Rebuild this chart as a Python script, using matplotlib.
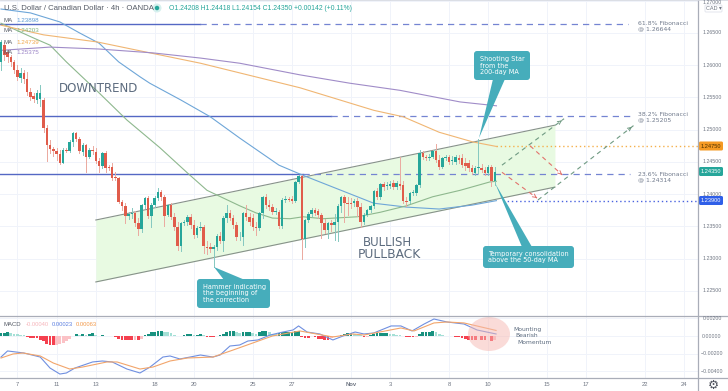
#!/usr/bin/env python3
import numpy as np
import matplotlib
matplotlib.use('Agg')
from matplotlib import pyplot as plt
from matplotlib.patches import Ellipse, FancyBboxPatch, Polygon, Rectangle
from matplotlib.transforms import Affine2D

# candles, price * 10000, one value per 4h bar
opens = [12605,12631,12620,12613,12605,12592,12580,12588,12579,12558,
         12552,12546,12548,12546,12503,12476,12470,12467,12462,12448,
         12468,12467,12481,12495,12486,12465,12476,12458,12468,12465,
         12451,12444,12464,12442,12442,12427,12425,12388,12382,12366,
         12369,12371,12355,12346,12383,12394,12366,12383,12394,12403,
         12396,12368,12383,12365,12349,12320,12355,12357,12365,12352,
         12337,12348,12349,12318,12318,12315,12318,12335,12327,12363,
         12371,12363,12352,12335,12334,12371,12365,12363,12349,12348,
         12371,12396,12383,12380,12372,12372,12351,12391,12393,12393,
         12389,12419,12428,12331,12360,12369,12376,12374,12368,12355,
         12345,12355,12352,12357,12382,12396,12386,12386,12386,12389,
         12380,12357,12368,12376,12382,12405,12396,12416,12413,12413,
         12417,12411,12416,12414,12389,12389,12402,12402,12414,12464,
         12458,12456,12458,12467,12453,12442,12456,12458,12451,12450,
         12456,12456,12448,12448,12441,12433,12441,12441,12437,12433,12442,12421]
closes = [12636,12616,12613,12605,12592,12582,12588,12579,12558,12551,
          12548,12557,12557,12503,12476,12470,12467,12462,12448,12468,
          12467,12481,12495,12486,12467,12476,12458,12468,12467,12451,
          12444,12464,12441,12441,12425,12425,12388,12382,12366,12369,
          12371,12355,12346,12383,12394,12366,12383,12394,12403,12396,
          12366,12383,12365,12349,12320,12355,12357,12365,12352,12337,
          12348,12349,12320,12317,12315,12318,12335,12327,12363,12371,
          12363,12352,12334,12335,12371,12365,12357,12349,12348,12371,
          12396,12383,12380,12372,12374,12351,12391,12393,12391,12389,
          12419,12428,12331,12360,12369,12376,12371,12368,12355,12345,
          12355,12352,12357,12382,12396,12386,12385,12385,12389,12380,
          12357,12368,12376,12382,12405,12396,12416,12411,12414,12416,
          12411,12417,12413,12389,12388,12402,12403,12414,12464,12458,
          12456,12458,12467,12453,12442,12456,12458,12450,12453,12458,
          12453,12445,12444,12441,12434,12441,12441,12437,12433,12442,12420,12435]
highs = [12639,12636,12623,12616,12608,12600,12596,12592,12589,12565,
         12557,12561,12569,12549,12507,12484,12473,12472,12468,12472,
         12472,12484,12496,12496,12489,12479,12478,12472,12475,12472,
         12456,12465,12467,12445,12448,12434,12427,12391,12386,12372,
         12379,12374,12363,12385,12396,12397,12386,12397,12410,12406,
         12399,12385,12386,12371,12357,12357,12360,12368,12369,12360,
         12351,12357,12352,12327,12324,12321,12338,12341,12366,12383,
         12376,12368,12357,12341,12372,12383,12371,12369,12357,12372,
         12397,12400,12391,12385,12379,12376,12394,12397,12396,12397,
         12420,12430,12430,12362,12372,12379,12379,12377,12371,12362,
         12357,12360,12369,12385,12397,12399,12396,12394,12393,12394,
         12386,12371,12377,12383,12406,12410,12417,12419,12419,12420,
         12422,12420,12458,12420,12396,12403,12406,12416,12468,12467,
         12461,12462,12468,12478,12461,12458,12461,12461,12459,12461,
         12461,12462,12456,12453,12445,12444,12486,12447,12442,12445,12445,12442]
lows = [12592,12608,12605,12599,12588,12577,12574,12572,12554,12546,
        12543,12541,12537,12496,12451,12464,12459,12453,12447,12448,
        12465,12465,12475,12482,12464,12461,12434,12456,12462,12448,
        12434,12441,12434,12437,12422,12422,12386,12376,12355,12362,
        12363,12351,12337,12341,12379,12363,12349,12380,12391,12391,
        12351,12366,12362,12345,12314,12312,12352,12352,12348,12332,
        12334,12345,12309,12307,12310,12287,12314,12324,12312,12357,
        12360,12348,12329,12329,12321,12360,12352,12345,12337,12345,
        12363,12379,12376,12369,12369,12348,12348,12388,12389,12386,
        12388,12417,12300,12318,12357,12366,12368,12363,12332,12340,
        12332,12343,12329,12327,12372,12357,12368,12379,12382,12366,
        12349,12354,12366,12372,12379,12393,12393,12406,12408,12410,
        12408,12408,12408,12386,12382,12386,12399,12399,12411,12455,
        12453,12453,12456,12450,12439,12441,12453,12447,12447,12447,
        12448,12442,12437,12436,12431,12430,12433,12434,12430,12430,12413,12415]

# moving averages, read at bar numbers
ma_blue_x = [0,9,18,24,30,36,42.5,45.5,55,64,73,85,92,104,114,124,134,144,151.5]
ma_blue = [12687,12681,12667,12650,12634,12605,12582,12572,12546,12520,12487,12445,12430,12406,12386,12380,12377,12383,12390]
ma_green_x = [0,10,15,20,30,38.5,48.6,57,63,73,78,83,88.4,92.4,98.5,109,116,124,132,140.4,149.5,151.5]
ma_green = [12665,12642,12631,12605,12557,12515,12472,12433,12406,12382,12371,12363,12362,12365,12362,12365,12372,12382,12396,12406,12419,12420]
ma_orange_x = [0,13,29.4,45.6,61,73,91.4,114,123,134,144.3,151.5]
ma_orange = [12662,12647,12636,12619,12603,12588,12565,12530,12520,12496,12481,12474]
ma_purple_x = [0,15,30,46.5,61,73,91.4,106.7,122,140.4,151.5]
ma_purple = [12623,12628,12625,12619,12611,12603,12585,12572,12561,12543,12537]

# rising channel
channel_x = [29, 169.4]
channel_top = [12360, 12507]
channel_bottom = [12264, 12411]

# fibonacci levels: price, last solid bar, last dashed bar
fib_prices = [1.26644, 1.25205, 1.24314]
fib_solid_end = [61, 101, 92.3]
fib_dash_end = [191.7, 192.4, 192.4]
fib_labels = ['61.8% Fibonacci\n@ 1.26644', '38.2% Fibonacci\n@ 1.25205', '23.6% Fibonacci\n@ 1.24314']

# projected paths
path_green_a = ([153.2, 172.2], [12445, 12517])
path_red_a = ([161.8, 171.6], [12475, 12430])
path_green_b = ([164.2, 193.6], [12391, 12507])
path_red_b = ([153.2, 163.9], [12434, 12394])

# MACD, value * 100000
macd_x = [0,2,7,12,15,18,20,22.6,28,31,34,38.5,42.5,45.6,49.5,51.7,54.7,61,64.8,67,70,73,75.5,78.6,82.3,
          86.2,89.3,91,93.6,97.5,101.5,104.6,108.3,111,114,119.3,122.3,125.7,129.4,132.4,136.4,141.6,145.6,151.4]
macd_line = [-239,-170,-193,-239,-364,-432,-420,-364,-295,-284,-295,-375,-420,-352,-239,-227,-261,-216,-239,-216,-114,-102,-57,-45,11,
             45,68,114,45,23,-45,0,45,23,34,114,114,57,136,193,159,136,68,23]
signal_x = [0,3.7,6.7,12,16,21,25,32.4,35.5,42.5,46.5,51.7,57,64.8,71,83,91.4,101.5,107.6,111,122.3,126.3,132.4,136.4,141.6,151.4]
signal_line = [-250,-204,-193,-227,-307,-375,-352,-295,-295,-375,-352,-284,-250,-239,-159,0,57,-11,23,11,91,57,148,159,148,63]
hist = [30,35,40,30,25,20,15,12,-15,-20,
        -25,-25,-40,-60,-90,-100,-105,-100,-95,-85,
        -60,-30,5,20,10,25,12,25,30,10,
        5,15,5,0,-5,-15,-30,-40,-50,-50,
        -50,-45,-50,-30,10,25,40,50,60,60,
        50,40,30,15,5,-5,10,20,25,15,
        15,20,15,-10,-15,-15,0,10,25,40,
        55,60,50,35,45,50,50,35,25,40,
        55,60,45,25,20,35,40,40,45,50,
        55,60,-10,-20,-20,-5,-15,-30,-35,-40,
        -45,-25,-10,-5,10,20,30,35,25,15,
        10,-15,-10,10,20,30,30,35,35,25,
        20,15,10,-3,-15,-15,-15,-10,25,40,
        45,50,55,50,25,15,5,0,-5,-8,
        -15,-20,-30,-40,-50,-50,-5,-50,-50,-5,-55,-40]

# axes
date_ticks = [5,17,29,47,59,77,89,107,119,137,149,167,179,197,209]
date_labels = ['7','11','13','18','20','25','27','Nov','3','8','10','15','17','22','24']
price_ticks = [1.27, 1.265, 1.26, 1.255, 1.25, 1.245, 1.24, 1.235, 1.23, 1.225]
macd_ticks = [0.002, 0, -0.002, -0.004]

UP = '#26a69a'
DOWN = '#e05c4b'
GRID = '#f0f3fa'
LINE = '#a9adb8'
TXT = '#6f7683'
TEAL = '#46adbb'
SANS = 'Liberation Sans'

W, H = 728, 391
fig = plt.figure(figsize=(W / 100, H / 100), dpi=100)
plt.rcParams['font.family'] = ['DejaVu Sans']

# pixel layout helpers for the notes that sit on top of the chart
px = Affine2D().scale(1 / W, -1 / H).translate(0, 1) + fig.transFigure


def pane(top, bottom):
    return fig.add_axes([0, 1 - bottom / H, 697.5 / W, (bottom - top) / H])


ax = pane(0, 316)
ax2 = pane(316, 378)
for a in (ax, ax2):
    a.set_xlim(-0.306, 213)
    for s in a.spines.values():
        s.set_visible(False)
    a.tick_params(left=False, bottom=False, labelleft=False, labelbottom=False)
    a.set_xticks(date_ticks)
    a.grid(True, color=GRID, lw=0.7)
    a.set_axisbelow(True)

ax.set_ylim(1.22112, 1.2701)
ax.set_yticks(price_ticks)
ax2.set_ylim(-0.00477, 0.00227)
ax2.set_yticks(macd_ticks)

# channel
chx = np.array(channel_x)
ax.fill_between(chx, np.array(channel_bottom) / 1e4, np.array(channel_top) / 1e4,
                color='#e8fae2', lw=0, zorder=1)
ax.plot(chx, np.array(channel_top) / 1e4, color='#87928a', lw=0.8, zorder=2)
ax.plot(chx, np.array(channel_bottom) / 1e4, color='#87928a', lw=0.8, zorder=2)

# fibs
for price, solid, dash in zip(fib_prices, fib_solid_end, fib_dash_end):
    ax.plot([-0.306, solid], [price, price], color='#5468c4', lw=1.0, zorder=2)
    ax.plot([solid, dash], [price, price], color='#7484d2', lw=0.9, ls=(0, (5, 4)), zorder=2)

ax.plot([151.5, 213], [1.2475, 1.2475], color='#f5b04c', lw=1, ls=(0, (1, 2)), zorder=2)
ax.plot([153.5, 213], [1.239, 1.239], color='#4a63e0', lw=1, ls=(0, (1, 2)), zorder=2)

# moving averages
for xs, ys, col in ((ma_blue_x, ma_blue, '#6ea6d8'), (ma_green_x, ma_green, '#8eb88e'),
                    (ma_orange_x, ma_orange, '#f0b673'), (ma_purple_x, ma_purple, '#a08cc8')):
    ax.plot(xs, np.array(ys) / 1e4, color=col, lw=0.8, zorder=3)

# candles
for i in range(len(opens)):
    o, c, h, l = opens[i] / 1e4, closes[i] / 1e4, highs[i] / 1e4, lows[i] / 1e4
    col = UP if c >= o else DOWN
    wick = '#84c8c0' if c >= o else '#eba99f'
    ax.plot([i, i], [l, h], color=wick, lw=0.7, zorder=4)
    ax.add_patch(Rectangle((i - 0.38, min(o, c)), 0.76, max(abs(c - o), 0.00006),
                           fc=col, ec='none', zorder=5))

# projected paths
for path, col in ((path_green_a, '#6f9a82'), (path_red_a, '#e2736c'),
                  (path_green_b, '#6f9a82'), (path_red_b, '#e2736c')):
    xs, ys = path[0], np.array(path[1]) / 1e4
    ax.plot(xs, ys, color=col, lw=0.8, ls=(0, (4, 3.5)), zorder=6)
    ax.annotate('', xy=(xs[1], ys[1]),
                xytext=(xs[1] - (xs[1] - xs[0]) * 0.08, ys[1] - (ys[1] - ys[0]) * 0.08),
                arrowprops=dict(arrowstyle='->', color=col, lw=0.7, mutation_scale=6), zorder=6)

# MACD pane
colors = []
for i, v in enumerate(hist):
    prev = hist[i - 1] if i else v
    if v >= 0:
        colors.append('#17917f' if v >= prev else '#a5e0d6')
    else:
        colors.append('#f5404f' if v <= prev else '#fbc2c6')
ax2.bar(range(len(hist)), np.array(hist) / 1e5, width=0.84, color=colors, zorder=2)
ax2.plot(macd_x, np.array(macd_line) / 1e5, color='#6f8fe0', lw=0.8, zorder=3)
ax2.plot(signal_x, np.array(signal_line) / 1e5, color='#f2a56b', lw=0.8, zorder=3)
fig.add_artist(Ellipse((489, 334), 42, 34, transform=px, fc='#f6b8b2', ec='none', alpha=0.5))


def note(x, y, s, **kw):
    kw.setdefault('va', 'center')
    kw.setdefault('color', TXT)
    kw.setdefault('fontsize', 4)
    kw.setdefault('family', SANS)
    return fig.text(x, y, s, transform=px, **kw)


def rule(x0, y0, x1, y1, col=LINE, lw=0.9):
    fig.add_artist(plt.Line2D([x0, x1], [y0, y1], transform=px, color=col, lw=lw))


rule(0, 316, 728, 316)
rule(0, 378, 728, 378)
rule(697.5, 0, 697.5, 391)
rule(0, 0.3, 728, 0.3, '#d5d8e0', 0.6)

# axis labels
for t in price_ticks:
    y = max((1.2701 - t) / 0.000155, 3)
    note(712, y, '%.5f' % t, ha='center', fontsize=3.8)
for t in macd_ticks:
    note(712, 336 - t * 8800, ('%.5f' % t).replace('-', '\u2212'), ha='center', fontsize=3.8)
for t, lab in zip(date_ticks, date_labels):
    note(1 + 3.27 * t, 385, lab, ha='center', fontsize=4.2,
         fontweight='bold' if lab == 'Nov' else 'normal')

for y, lab, col in ((146, '1.24750', '#f59a23'), (171.5, '1.24350', '#26a69a'), (200.5, '1.23900', '#2f5fe8')):
    fig.add_artist(FancyBboxPatch((699, y - 4.5), 24, 9, boxstyle='round,pad=0,rounding_size=1.5',
                                  transform=px, fc=col, ec='none'))
    note(711, y, lab, ha='center', color='white' if col != '#f59a23' else '#4a3000', fontsize=4.1)

fig.add_artist(FancyBboxPatch((705, 5), 17, 7, boxstyle='round,pad=0,rounding_size=1',
                              transform=px, fc='white', ec='#dfe2ea', lw=0.6))
note(713.5, 8.5, 'CAD \u25be', ha='center', fontsize=4, family=[SANS, 'DejaVu Sans'])
note(713, 385, '\u2699', ha='center', fontsize=9, color='#50535e', family='DejaVu Sans')

# header
note(4, 8, 'U.S. Dollar / Canadian Dollar \u00b7 4h \u00b7 OANDA', fontsize=5.6, color='#555b66')
fig.add_artist(Ellipse((157, 8), 9, 9, transform=px, fc='#d6f0ee', ec='none'))
fig.add_artist(Ellipse((157, 8), 4.5, 4.5, transform=px, fc='#26a69a', ec='none'))
note(169, 8, 'O1.24208 H1.24418 L1.24154 C1.24350 +0.00142 (+0.11%)', fontsize=4.9, color='#26a69a')
for y, val, col in ((20, '1.23898', '#5b9bd5'), (31, '1.24203', '#7fb27f'),
                    (42, '1.24739', '#f0a94f'), (53, '1.25375', '#9a83c6')):
    note(4, y, 'MA', fontsize=4.4, color='#555b66')
    note(16, y, val, fontsize=4.5, color=col)
note(4, 324, 'MACD', fontsize=4.3, color='#555b66')
note(26, 324, '-0.00040', fontsize=4.2, color='#f6b5bb')
note(52, 324, '0.00023', fontsize=4.2, color='#5b7fe0')
note(76, 324, '0.00063', fontsize=4.2, color='#f2994a')

# big labels
note(59, 89, 'DOWNTREND', fontsize=8.5, color='#5c6b7e', family='DejaVu Sans')
note(387, 242, 'BULLISH', ha='center', fontsize=8.5, color='#5c6b7e', family='DejaVu Sans')
note(389.5, 255, 'PULLBACK', ha='center', fontsize=8.8, color='#5c6b7e', family='DejaVu Sans')

for y, lab in zip((26, 117.5, 177), fib_labels):
    note(638, y, lab, fontsize=4.4, color='#707a8c', linespacing=1.05, family='DejaVu Sans')

note(513, 329, 'Mounting', fontsize=4.3, color='#5c6b7e', family='DejaVu Sans')
note(515, 335.5, 'Bearish', fontsize=4.3, color='#5c6b7e', family='DejaVu Sans')
note(517, 342, 'Momentum', fontsize=4.3, color='#5c6b7e', family='DejaVu Sans')


# callouts
def callout(x0, y0, x1, y1, pointer, lines, tx):
    fig.add_artist(Polygon(pointer, closed=True, transform=px, fc=TEAL, ec='none'))
    fig.add_artist(FancyBboxPatch((x0, y0), x1 - x0, y1 - y0, boxstyle='round,pad=0,rounding_size=3',
                                  transform=px, fc=TEAL, ec='none'))
    note(tx, (y0 + y1) / 2, lines, color='white', fontsize=4.7, linespacing=1.05, family='DejaVu Sans')


callout(197, 279, 270, 308, [(214, 267), (224, 280), (245, 280)],
        'Hammer indicating\nthe beginning of\nthe correction', 203)
callout(474, 51, 530, 80, [(479, 138), (493, 79), (505, 79)],
        'Shooting Star\nfrom the\n200-day MA', 480)
callout(483, 246, 574, 268, [(495, 183), (522, 247), (532, 247)],
        'Temporary consolidation\nabove the 50-day MA', 488)

plt.savefig('out.png', dpi=100)
